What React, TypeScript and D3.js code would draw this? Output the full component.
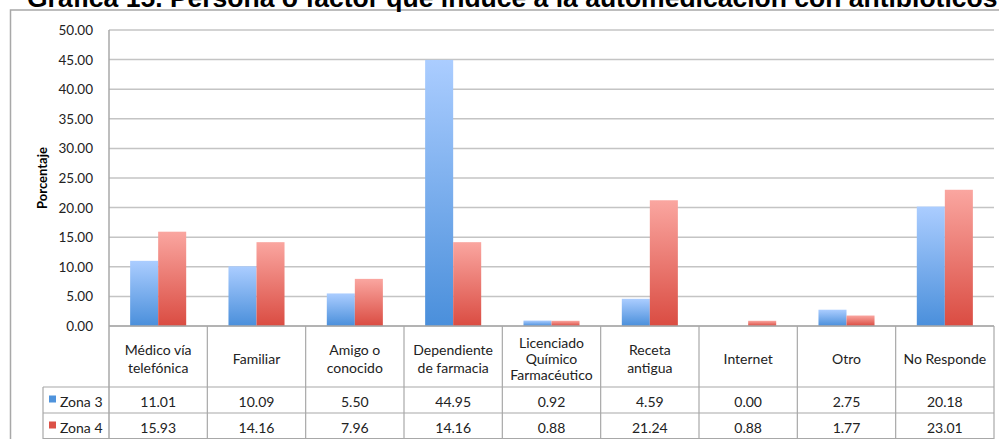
import React from "react";
import * as d3 from "d3";

const categories = [
  "Médico vía\ntelefónica",
  "Familiar",
  "Amigo o\nconocido",
  "Dependiente\nde farmacia",
  "Licenciado\nQuímico\nFarmacéutico",
  "Receta\nantigua",
  "Internet",
  "Otro",
  "No Responde",
];
const seriesNames = ["Zona 3", "Zona 4"];
const zona3 = [11.01, 10.09, 5.5, 44.95, 0.92, 4.59, 0.0, 2.75, 20.18];
const zona4 = [15.93, 14.16, 7.96, 14.16, 0.88, 21.24, 0.88, 1.77, 23.01];
const yTicks = [0, 5, 10, 15, 20, 25, 30, 35, 40, 45, 50];
const title = "Gráfica 15. Persona o factor que induce a la automedicación con antibióticos";

export default function App() {
  const W = 999, H = 439;
  const left = 109, right = 994, top = 30, bottom = 326;
  const y = d3.scaleLinear().domain([0, 50]).range([bottom, top]);
  const x0 = d3.scaleBand<number>().domain(categories.map((_, i) => i)).range([left, right]).padding(0);
  const bw = x0.bandwidth();
  const x1 = d3.scaleBand<number>().domain([0, 1]).range([bw * 0.215, bw * 0.785]).padding(0);
  const data = [zona3, zona4];
  const fmt = d3.format(".2f");
  const grid = "#c4c4c4";
  const font = "Lato, 'Open Sans', sans-serif";
  const headerBottom = 387, row1Bottom = 413, row2Bottom = 439;
  const legendLeft = 43;
  const colors = ["#4f93dc", "#dc5147"];
  const fs = 14;

  return (
    <svg width={W} height={H} style={{ position: "absolute", left: 0, top: 0 }}>
      <defs>
        <linearGradient id="gBlue" x1="0" y1="0" x2="0" y2="1">
          <stop offset="0" stopColor="#abcdff" />
          <stop offset="1" stopColor="#4a8fdb" />
        </linearGradient>
        <linearGradient id="gRed" x1="0" y1="0" x2="0" y2="1">
          <stop offset="0" stopColor="#faa6a0" />
          <stop offset="1" stopColor="#da4c42" />
        </linearGradient>
      </defs>
      <rect x={0} y={0} width={W} height={H} fill="#fff" />
      {/* outer frame */}
      <path d={`M10.5,${H} V10 H${W}`} fill="none" stroke="#a8a8a8" strokeWidth={1.5} />
      <text x={27} y={6.5} fontFamily="'Liberation Sans', Arial, sans-serif" fontWeight="bold" fontSize={26.5} fill="#000">
        {title}
      </text>
      {/* gridlines */}
      {yTicks.map((t) => (
        <line key={t} x1={left} x2={right} y1={y(t)} y2={y(t)} stroke={grid} strokeWidth={1.5} />
      ))}
      {yTicks.map((t) => (
        <text key={"l" + t} x={93} y={y(t) + 5} textAnchor="end" fontFamily={font} fontSize={13.5} fill="#222">
          {fmt(t)}
        </text>
      ))}
      <text
        transform={`translate(47,${(top + bottom) / 2}) rotate(-90)`}
        textAnchor="middle"
        fontFamily={font}
        fontWeight="bold"
        fontSize={13}
        fill="#000"
      >
        Porcentaje
      </text>
      {/* bars */}
      {categories.map((_, i) =>
        data.map((vals, s) => (
          <rect
            key={i + "-" + s}
            x={(x0(i) as number) + (x1(s) as number)}
            y={y(vals[i])}
            width={x1.bandwidth()}
            height={bottom - y(vals[i])}
            fill={s === 0 ? "url(#gBlue)" : "url(#gRed)"}
          />
        ))
      )}
      {/* table */}
      <line x1={left} x2={left} y1={top} y2={H} stroke="#a8a8a8" strokeWidth={1.5} />
      <line x1={left} x2={right} y1={bottom} y2={bottom} stroke="#a8a8a8" strokeWidth={1.5} />
      <line x1={legendLeft} x2={right} y1={headerBottom} y2={headerBottom} stroke="#a8a8a8" strokeWidth={1.2} />
      <line x1={legendLeft} x2={right} y1={row1Bottom} y2={row1Bottom} stroke="#a8a8a8" strokeWidth={1.2} />
      <line x1={legendLeft} x2={right} y1={row2Bottom - 0.5} y2={row2Bottom - 0.5} stroke="#a8a8a8" strokeWidth={1.2} />
      <line x1={legendLeft} x2={legendLeft} y1={headerBottom} y2={H} stroke="#a8a8a8" strokeWidth={1.2} />
      {categories.map((_, i) => (
        <line
          key={"v" + i}
          x1={(x0(i) as number) + bw}
          x2={(x0(i) as number) + bw}
          y1={bottom}
          y2={H}
          stroke="#a8a8a8"
          strokeWidth={1.2}
        />
      ))}
      {categories.map((c, i) => {
        const lines = c.split("\n");
        const cx = (x0(i) as number) + bw / 2;
        const lh = lines.length > 2 ? 16 : 18;
        const cy = (bottom + headerBottom) / 2 + 2;
        return (
          <text key={"c" + i} textAnchor="middle" fontFamily={font} fontSize={fs} fill="#222">
            {lines.map((l, k) => (
              <tspan key={k} x={cx} y={cy + (k - (lines.length - 1) / 2) * lh + 5}>
                {l}
              </tspan>
            ))}
          </text>
        );
      })}
      {seriesNames.map((n, s) => {
        const rowTop = s === 0 ? headerBottom : row1Bottom;
        const cy = rowTop + 14.5;
        return (
          <g key={n}>
            <rect x={49} y={cy - 6} width={7} height={7} fill={colors[s]} />
            <text x={60} y={cy + 5} fontFamily={font} fontSize={fs} fill="#222">
              {n}
            </text>
            {data[s].map((v, i) => (
              <text
                key={i}
                x={(x0(i) as number) + bw / 2}
                y={cy + 5}
                textAnchor="middle"
                fontFamily={font}
                fontSize={fs}
                fill="#222"
              >
                {fmt(v)}
              </text>
            ))}
          </g>
        );
      })}
    </svg>
  );
}
